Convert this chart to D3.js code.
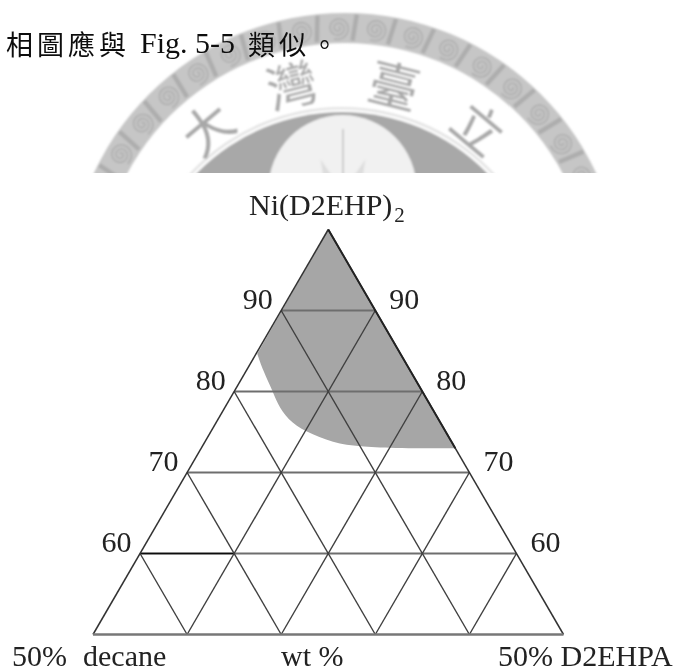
<!DOCTYPE html>
<html lang="zh-Hant">
<head>
<meta charset="utf-8">
<script src="https://cdn.jsdelivr.net/npm/d3@7"></script>
<style>
html,body{margin:0;padding:0;background:#fff;}
svg{display:block;}
.serif{font-family:"Liberation Serif",serif;fill:#222;}
.cjk{font-family:"Noto Sans CJK TC",sans-serif;font-weight:400;fill:#111;}
</style>
</head>
<body>
<svg id="c" width="678" height="672"></svg>
<script>
// ---- data ----
const niTicks = [60, 70, 80, 90];
const baseTicks = [0, 10, 20, 30, 40, 50];
const regionNi =      [84.65, 82.67, 79.96, 78.54, 76.48, 75.07, 73.64, 73.2, 73.0, 73.0];
const regionD2ehpa =  [0.13,  1.7,   4.15,  5.31,  7.48,  10.0,  13.72, 16.77, 20.06, 27.0];
const introChars = ["相", "圖", "應", "與", "類", "似", "。"];
const introFig = "Fig. 5-5";
const apexName = "Ni(D2EHP)";
const apexSub = "2";
const bottomLabels = ["50%", "decane", "wt %", "50% D2EHPA"];
const sealChars = ["學", "大", "灣", "臺", "立", "國"];
const sealAngles = [-66, -40, -14, 14, 40, 66];
const spiralAngles = [-67, -58.9, -50.7, -42.5, -34.3, -26.1, -17.9, -9.7, -1.5, 6.7, 14.9, 23.1, 31.3, 39.5, 47.7, 55.9, 64.1];
const rayAngles = [-22, 0, 22];

// ---- scales ----
const yN = d3.scaleLinear().domain([50, 100]).range([634.5, 229.5]);
const xA = d3.scaleLinear().domain([0, 50]).range([93, 563.5]);
const pt = (n, a) => [xA(a + (n - 50) / 2), yN(n)];

const svg = d3.select("#c");
const defs = svg.append("defs");
defs.append("filter").attr("id", "soft").append("feGaussianBlur").attr("stdDeviation", 1);
defs.append("filter").attr("id", "soft2").append("feGaussianBlur").attr("stdDeviation", 0.35);
defs.append("clipPath").attr("id", "sealClip").append("rect")
  .attr("x", 0).attr("y", 0).attr("width", 678).attr("height", 173);

// ---- seal watermark ----
const seal = svg.append("g").attr("clip-path", "url(#sealClip)").append("g").attr("filter", "url(#soft)");
const cx = 345, cy = 290, rad = Math.PI / 180;
const ring = seal.append("g").attr("transform", `translate(${cx},${cy})`);
ring.append("path")
  .attr("d", d3.arc().innerRadius(247).outerRadius(277).startAngle(-Math.PI / 2).endAngle(Math.PI / 2)())
  .attr("fill", "#c6c6c6");
const spiral = d3.lineRadial().curve(d3.curveBasis);
const spiralPts = d3.range(0, 2.6, 0.08).map(t => [t * 2 * Math.PI, 1 + t * 4.2]);
spiralAngles.forEach(a => {
  const g = ring.append("g").attr("transform", `rotate(${a}) translate(0,-262)`);
  g.append("path").attr("d", spiral(spiralPts)).attr("fill", "none").attr("stroke", "#adadad").attr("stroke-width", 1.6);
  g.append("line").attr("x1", 19).attr("x2", 14).attr("y1", -13).attr("y2", 13)
    .attr("stroke", "#adadad").attr("stroke-width", 4.5);
});
seal.append("circle").attr("cx", 342).attr("cy", 315).attr("r", 208).attr("fill", "#e4e4e4");
seal.append("circle").attr("cx", 342).attr("cy", 315).attr("r", 205.5).attr("fill", "#fff");
seal.append("circle").attr("cx", 342).attr("cy", 315).attr("r", 203).attr("fill", "#a8a8a8");
seal.append("circle").attr("cx", 342.5).attr("cy", 189).attr("r", 74).attr("fill", "#f1f1f1");
rayAngles.forEach(a => {
  const g = seal.append("g").attr("transform", `translate(343,215) rotate(${a})`);
  if (a === 0) g.append("line").attr("y1", -86).attr("y2", 0).attr("stroke", "#b4b4b4").attr("stroke-width", 1.2);
  else g.append("path").attr("d", d3.line()([[-7, -30], [0, -60], [7, -30]])).attr("fill", "#dedede");
});
sealChars.forEach((c, i) => {
  const a = sealAngles[i];
  seal.append("text")
    .attr("transform", `translate(${cx - 2 + 210 * Math.sin(a * rad)},${cy - 210 * Math.cos(a * rad)}) rotate(${a})`)
    .attr("text-anchor", "middle").attr("dy", "0.36em")
    .attr("font-family", '"Noto Sans CJK TC",sans-serif').attr("font-size", 50)
    .attr("fill", "#a8a8a8").text(c);
});

// ---- intro line ----
const intro = svg.append("g").attr("filter", "url(#soft2)");
const charX = [6, 37, 68, 99, 248, 279, 311];
introChars.forEach((c, i) => {
  intro.append("text").attr("class", "cjk").attr("x", charX[i]).attr("y", 55)
    .attr("font-size", 27).text(c);
});
intro.append("text").attr("class", "serif").attr("x", 140).attr("y", 53)
  .attr("font-size", 30).style("fill", "#111").text(introFig);

// ---- ternary chart ----
const chart = svg.append("g").attr("filter", "url(#soft2)");
const boundary = regionNi.map((n, i) => pt(n, regionD2ehpa[i]));
const curve = d3.line().curve(d3.curveBasis)(boundary);
const [ax, ay] = pt(100, 0);
chart.append("path").attr("d", `${curve}L${ax},${ay}Z`).attr("fill", "#a6a6a6");

const grid = chart.append("g").attr("fill", "none");
const seg = (p, q, stroke, w) => grid.append("line")
  .attr("x1", p[0]).attr("y1", p[1]).attr("x2", q[0]).attr("y2", q[1])
  .attr("stroke", stroke).attr("stroke-width", w);

// horizontal rows (constant Ni)
niTicks.forEach(n => seg(pt(n, 0), pt(n, 100 - n), "#6e6e6e", 1.8));
seg(pt(60, 0), pt(60, 10), "#111", 1.5);
// diagonal lines from each base tick
baseTicks.slice(1, -1).forEach(a => {
  seg(pt(50, a), pt(50 + a, 0), "#3f3f3f", 1.4);
  seg(pt(50, a), pt(100 - a, a), "#3f3f3f", 1.4);
});
// outline
seg(pt(50, 0), pt(100, 0), "#333", 1.5);
seg(pt(100, 0), pt(50, 50), "#333", 1.5);
seg(pt(100, 0), pt(73, 27), "#222", 1.9);
seg(pt(50, 0), pt(50, 50), "#777", 2.4);

// apex label
const apex = chart.append("text").attr("class", "serif").attr("x", 249).attr("y", 215).attr("font-size", 30);
apex.append("tspan").text(apexName);
apex.append("tspan").attr("font-size", 21).attr("dy", 7).attr("dx", 2).text(apexSub);

// tick labels on both edges
niTicks.forEach(n => {
  const L = pt(n, 0), R = pt(n, 100 - n);
  chart.append("text").attr("class", "serif").attr("x", L[0] - 8.5).attr("y", L[1] - 1.5)
    .attr("text-anchor", "end").attr("font-size", 30).text(n);
  chart.append("text").attr("class", "serif").attr("x", R[0] + 14).attr("y", R[1] - 1.5)
    .attr("font-size", 30).text(n);
});

// bottom labels
const labelX = [12, 83, 281, 498];
bottomLabels.forEach((t, i) => {
  chart.append("text").attr("class", "serif").attr("x", labelX[i]).attr("y", 665.5)
    .attr("font-size", 30).text(t);
});
</script>
</body>
</html>
